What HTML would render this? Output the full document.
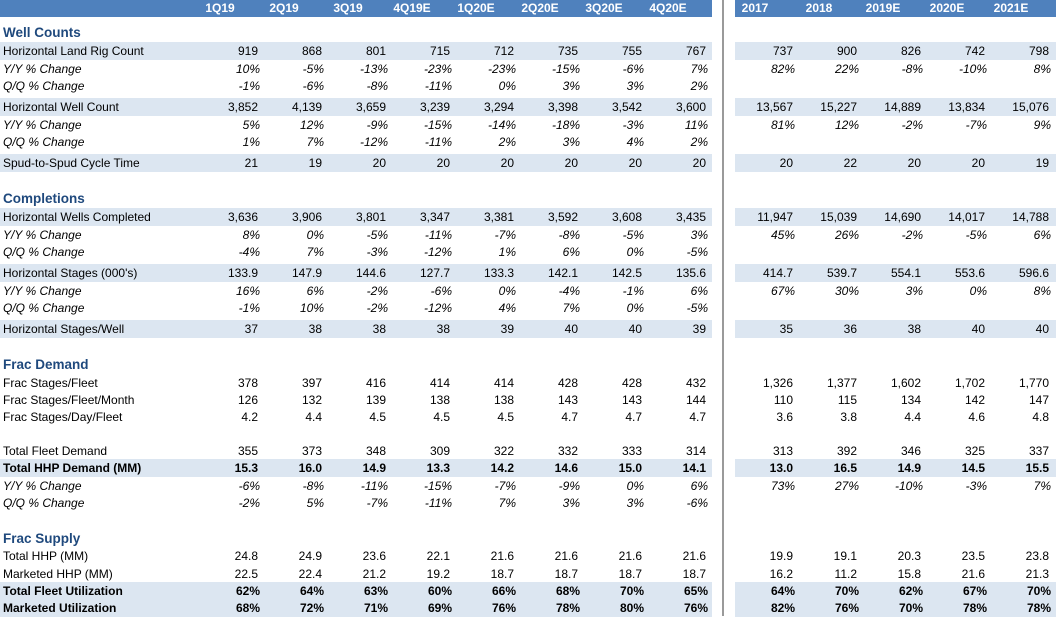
<!DOCTYPE html>
<html><head><meta charset="utf-8"><style>
body{margin:0;width:1056px;height:616px;overflow:hidden;background:#fff;font-family:"Liberation Sans",sans-serif;font-size:12px;color:#000;position:relative}
.r{position:absolute;left:0;width:1056px;height:18px;line-height:18px}
.sh1{position:absolute;left:0;width:712px;height:100%;background:#DCE6F1}
.sh2{position:absolute;left:735px;width:321px;height:100%;background:#DCE6F1}
.hd1{position:absolute;left:0;width:712px;height:100%;background:#4F81BD}
.hd2{position:absolute;left:735px;width:321px;height:100%;background:#4F81BD}
.lab{position:absolute;left:3px;white-space:nowrap}
.c{position:absolute;width:60px;text-align:right;white-space:nowrap}
.h{color:#fff;font-weight:bold;text-align:center}
.sec{color:#1F497D;font-weight:bold;font-size:13.5px}
.it{font-style:italic}
.b{font-weight:bold}
.sep{position:absolute;left:722px;top:0;width:2px;height:616px;background:#9a9a9a}
</style></head><body>
<div class="sep"></div>
<div id="t"></div>
<script>
const qCols=["1Q19","2Q19","3Q19","4Q19E","1Q20E","2Q20E","3Q20E","4Q20E"];
const yCols=["2017","2018","2019E","2020E","2021E"];
// [top, type, label, quarterly values, annual values]
const rows=[
[24,"sec","Well Counts"],
[42,"sh","Horizontal Land Rig Count",["919","868","801","715","712","735","755","767"],["737","900","826","742","798"]],
[60,"it","Y/Y % Change",["10%","-5%","-13%","-23%","-23%","-15%","-6%","7%"],["82%","22%","-8%","-10%","8%"]],
[77,"it","Q/Q % Change",["-1%","-6%","-8%","-11%","0%","3%","3%","2%"],[]],
[98,"sh","Horizontal Well Count",["3,852","4,139","3,659","3,239","3,294","3,398","3,542","3,600"],["13,567","15,227","14,889","13,834","15,076"]],
[116,"it","Y/Y % Change",["5%","12%","-9%","-15%","-14%","-18%","-3%","11%"],["81%","12%","-2%","-7%","9%"]],
[133,"it","Q/Q % Change",["1%","7%","-12%","-11%","2%","3%","4%","2%"],[]],
[154,"sh","Spud-to-Spud Cycle Time",["21","19","20","20","20","20","20","20"],["20","22","20","20","19"]],
[190,"sec","Completions"],
[208,"sh","Horizontal Wells Completed",["3,636","3,906","3,801","3,347","3,381","3,592","3,608","3,435"],["11,947","15,039","14,690","14,017","14,788"]],
[226,"it","Y/Y % Change",["8%","0%","-5%","-11%","-7%","-8%","-5%","3%"],["45%","26%","-2%","-5%","6%"]],
[243,"it","Q/Q % Change",["-4%","7%","-3%","-12%","1%","6%","0%","-5%"],[]],
[264,"sh","Horizontal Stages (000's)",["133.9","147.9","144.6","127.7","133.3","142.1","142.5","135.6"],["414.7","539.7","554.1","553.6","596.6"]],
[282,"it","Y/Y % Change",["16%","6%","-2%","-6%","0%","-4%","-1%","6%"],["67%","30%","3%","0%","8%"]],
[299,"it","Q/Q % Change",["-1%","10%","-2%","-12%","4%","7%","0%","-5%"],[]],
[320,"sh","Horizontal Stages/Well",["37","38","38","38","39","40","40","39"],["35","36","38","40","40"]],
[356,"sec","Frac Demand"],
[374,"n","Frac Stages/Fleet",["378","397","416","414","414","428","428","432"],["1,326","1,377","1,602","1,702","1,770"]],
[391,"n","Frac Stages/Fleet/Month",["126","132","139","138","138","143","143","144"],["110","115","134","142","147"]],
[408,"n","Frac Stages/Day/Fleet",["4.2","4.4","4.5","4.5","4.5","4.7","4.7","4.7"],["3.6","3.8","4.4","4.6","4.8"]],
[442,"n","Total Fleet Demand",["355","373","348","309","322","332","333","314"],["313","392","346","325","337"]],
[459,"shb","Total HHP Demand (MM)",["15.3","16.0","14.9","13.3","14.2","14.6","15.0","14.1"],["13.0","16.5","14.9","14.5","15.5"]],
[477,"it","Y/Y % Change",["-6%","-8%","-11%","-15%","-7%","-9%","0%","6%"],["73%","27%","-10%","-3%","7%"]],
[494,"it","Q/Q % Change",["-2%","5%","-7%","-11%","7%","3%","3%","-6%"],[]],
[530,"sec","Frac Supply"],
[547,"n","Total HHP (MM)",["24.8","24.9","23.6","22.1","21.6","21.6","21.6","21.6"],["19.9","19.1","20.3","23.5","23.8"]],
[565,"n","Marketed HHP (MM)",["22.5","22.4","21.2","19.2","18.7","18.7","18.7","18.7"],["16.2","11.2","15.8","21.6","21.3"]],
[582,"shb","Total Fleet Utilization",["62%","64%","63%","60%","66%","68%","70%","65%"],["64%","70%","62%","67%","70%"]],
[599,"shb","Marketed Utilization",["68%","72%","71%","69%","76%","78%","80%","76%"],["82%","76%","70%","78%","78%"]]
];
const qRight=i=>258+64*i, yRight=i=>793+64*i;
const t=document.getElementById('t');
function slug(s){return s.toLowerCase().replace(/[^a-z0-9]+/g,'-').replace(/^-|-$/g,'');}
// header
const hr=document.createElement('div');hr.className='r';hr.style.top='0px';hr.style.height='17px';hr.style.lineHeight='17px';


hr.innerHTML='<div class="hd1"></div><div class="hd2"></div>';
qCols.forEach((c,i)=>{const d=document.createElement('div');d.className='c h';d.style.left=(qRight(i)-60-8)+'px';d.textContent=c;


hr.appendChild(d);});
yCols.forEach((c,i)=>{const d=document.createElement('div');d.className='c h';d.style.left=(yRight(i)-60-8)+'px';d.textContent=c;


hr.appendChild(d);});
t.appendChild(hr);
let prev='';
rows.forEach(([top,type,label,qv,yv])=>{
 const r=document.createElement('div');r.className='r';r.style.top=top+'px';
 let nm=slug(label); if(type==='it') nm=prev+'-'+nm; else prev=nm;
 
 
 if(type==='sh'||type==='shb') r.innerHTML='<div class="sh1"></div><div class="sh2"></div>';
 const l=document.createElement('div');l.className='lab'+(type==='sec'?' sec':'')+(type==='it'?' it':'')+(type==='shb'?' b':'');
 l.textContent=label;
 
 
 r.appendChild(l);
 const cls='c'+(type==='it'?' it':'')+(type==='shb'?' b':'');
 (qv||[]).forEach((v,i)=>{const d=document.createElement('div');d.className=cls;
  const pct=v.endsWith('%')?2:0;d.style.left=(qRight(i)-60+pct)+'px';d.textContent=v;
  
  
  r.appendChild(d);});
 (yv||[]).forEach((v,i)=>{const d=document.createElement('div');d.className=cls;
  const pct=v.endsWith('%')?2:0;d.style.left=(yRight(i)-60+pct)+'px';d.textContent=v;
  
  
  r.appendChild(d);});
 t.appendChild(r);
});
</script>
</body></html>
